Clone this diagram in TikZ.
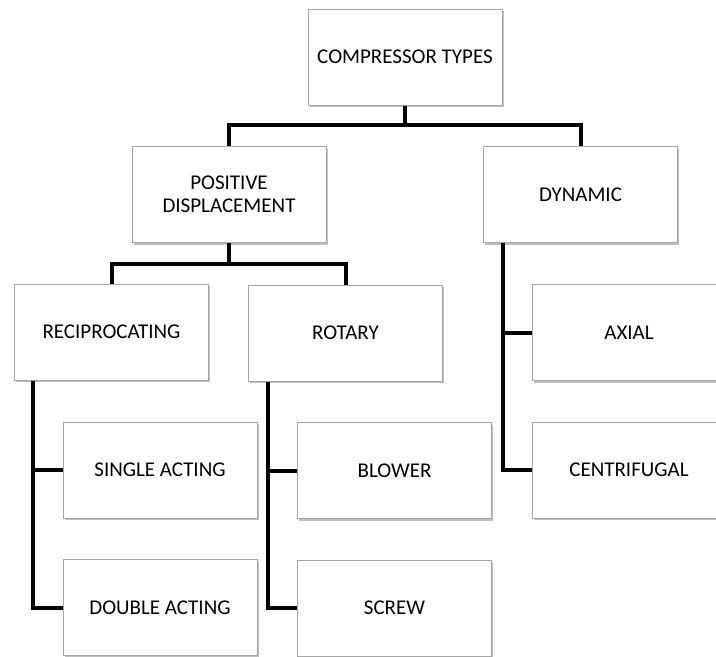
\documentclass[tikz,border=0pt]{standalone}
\usepackage{fontspec}
\setmainfont{Carlito}
\usepackage{xcolor}
\usetikzlibrary{shadows}
\definecolor{Frame}{HTML}{A6A6A6}
\definecolor{Wire}{HTML}{000000}

\begin{document}
\begin{tikzpicture}[x=1pt, y=-1pt,
    box/.style={draw=Frame, line width=1pt, fill=white, minimum width=194pt,
      minimum height=96pt, inner sep=0pt, align=center,
      font=\fontsize{21}{23.5}\selectfont,
      drop shadow={shadow xshift=1.5pt, shadow yshift=-2pt, fill=black, opacity=0.25}},
    link/.style={Wire, line width=4pt, line join=miter}]
        \clip (0,0) rectangle (716,657);
        \fill[white] (0,0) rectangle (716,657);
        % boxes
        \node[box] (root) at (405,57) {COMPRESSOR TYPES};
        \node[box] (posdisp) at (229,194.5) {POSITIVE\\DISPLACEMENT};
        \node[box] (dynamic) at (580.5,194.5) {DYNAMIC};
        \node[box] (recip) at (111.5,332) {RECIPROCATING};
        \node[box] (rotary) at (345.5,333) {ROTARY};
        \node[box] (axial) at (629,332.5) {AXIAL};
        \node[box] (centri) at (629,470) {CENTRIFUGAL};
        \node[box] (single) at (160,470) {SINGLE ACTING};
        \node[box] (double) at (160,607.5) {DOUBLE ACTING};
        \node[box] (blower) at (394.5,470.5) {BLOWER};
        \node[box] (screw) at (394.5,608) {SCREW};
        % junctions
        \coordinate (j1) at (405,125);
        \coordinate (j2) at (229,264);
        % connectors
        \draw[link] (root.south) -- (j1) -| (posdisp.north);
        \draw[link] (j1) -| (dynamic.north);
        \draw[link] (posdisp.south) -- (j2) -| (recip.north);
        \draw[link] (j2) -| (rotary.north);
        \draw[link] ([xshift=19pt]recip.south west) |- (single.west);
        \draw[link] ([xshift=19pt]recip.south west) |- (double.west);
        \draw[link] ([xshift=20pt]rotary.south west) |- (blower.west);
        \draw[link] ([xshift=20pt]rotary.south west) |- (screw.west);
        \draw[link] ([xshift=20pt]dynamic.south west) |- (axial.west);
        \draw[link] ([xshift=20pt]dynamic.south west) |- (centri.west);
      \end{tikzpicture}
\end{document}
